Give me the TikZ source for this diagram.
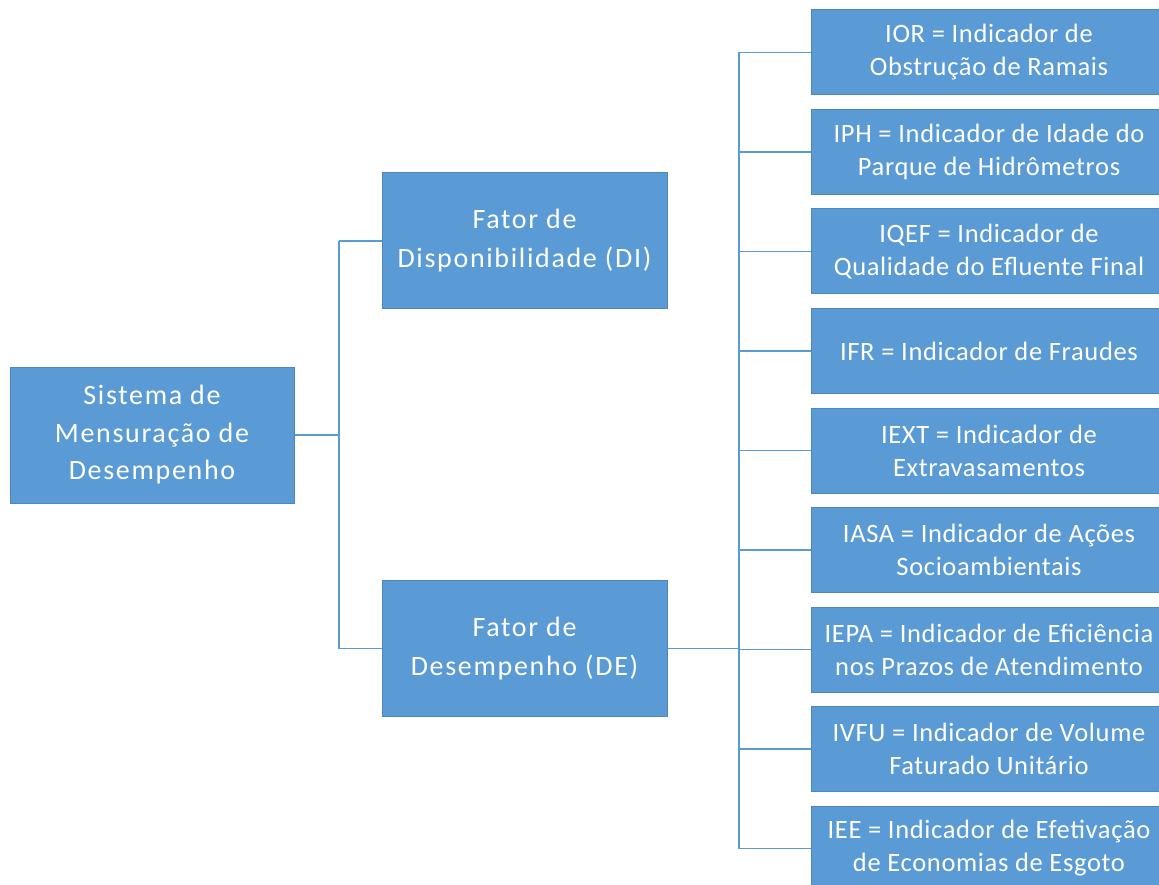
\documentclass[tikz,border=0pt]{standalone}
\usepackage{fontspec}
\setmainfont{Carlito}
\newfontfamily\bigfont[LetterSpace=6]{Carlito}
\newfontfamily\itemfont[LetterSpace=2.5]{Carlito}
\definecolor{boxblue}{HTML}{5B9BD5}
\definecolor{boxedge}{HTML}{4F87BA}
\tikzset{
    box/.style={draw=boxedge, fill=boxblue, text=white, align=center, inner sep=0pt, line width=1pt},
    main/.style={box, minimum width=285pt, minimum height=136pt, font=\bigfont\fontsize{28}{39}\selectfont},
    item/.style={box, minimum width=356pt, minimum height=85pt, font=\itemfont\fontsize{26.5}{33}\selectfont},
    link/.style={draw=boxblue, line width=1.6pt},
}
\begin{document}
\begin{tikzpicture}[x=1pt, y=-1pt]
    \useasboundingbox (0,0) rectangle (1159,885);

    \node [main, minimum width=284pt, font=\bigfont\fontsize{28}{37.5}\selectfont] (sis) at (152,435) {Sistema de\\Mensuração de\\Desempenho};
    \node [main] (di) at (524.5,241) {Fator de\\Disponibilidade (DI)};
    \node [main] (de) at (524.5,648.5) {Fator de\\Desempenho (DE)};

    \node [item] (ior) at (989,52.5) {IOR = Indicador de\\Obstrução de Ramais};
    \node [item] (iph) at (989,152) {IPH = Indicador de Idade do\\Parque de Hidrômetros};
    \node [item] (iqef) at (989,251.5) {IQEF = Indicador de\\Qualidade do Efluente Final};
    \node [item] (ifr) at (989,351) {IFR = Indicador de Fraudes};
    \node [item] (iext) at (989,450.5) {IEXT = Indicador de\\Extravasamentos};
    \node [item] (iasa) at (989,550) {IASA = Indicador de Ações\\Socioambientais};
    \node [item] (iepa) at (989,649.5) {IEPA = Indicador de Eficiência\\nos Prazos de Atendimento};
    \node [item] (ivfu) at (989,749) {IVFU = Indicador de Volume\\Faturado Unitário};
    \node [item] (iee) at (989,848.5) {IEE = Indicador de Efetivação\\de Economias de Esgoto};

    \coordinate (fork) at (339,435);
    \coordinate (bus) at (739,435);

    \draw [link] (sis.east) -- (fork);
    \draw [link] (di.west -| fork) -- (de.west -| fork);
    \draw [link] (di.west -| fork) -- (di.west);
    \draw [link] (de.west -| fork) -- (de.west);

    \draw [link] (de.east) -- (de.east -| bus);
    \draw [link] (ior.west -| bus) -- (iee.west -| bus);
    \draw [link] (ior.west -| bus) -- (ior.west);
    \draw [link] (iph.west -| bus) -- (iph.west);
    \draw [link] (iqef.west -| bus) -- (iqef.west);
    \draw [link] (ifr.west -| bus) -- (ifr.west);
    \draw [link] (iext.west -| bus) -- (iext.west);
    \draw [link] (iasa.west -| bus) -- (iasa.west);
    \draw [link] (iepa.west -| bus) -- (iepa.west);
    \draw [link] (ivfu.west -| bus) -- (ivfu.west);
    \draw [link] (iee.west -| bus) -- (iee.west);
\end{tikzpicture}
\end{document}
